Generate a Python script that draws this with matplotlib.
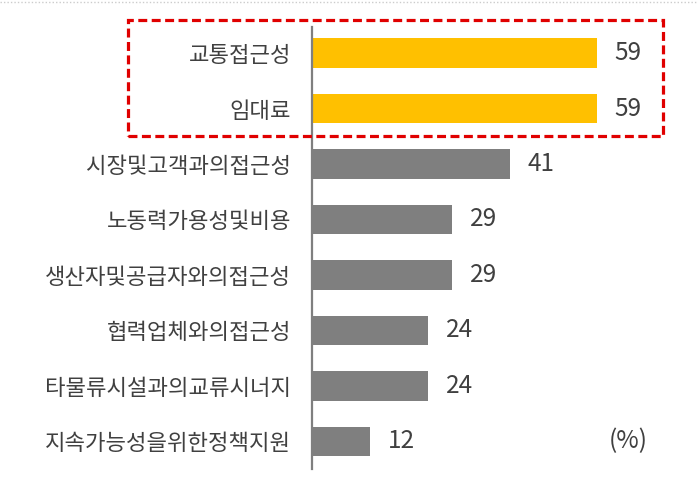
import matplotlib.pyplot as plt
from matplotlib.patches import Rectangle
from matplotlib.lines import Line2D

plt.rcParams['font.family'] = ['Noto Sans CJK KR', 'DejaVu Sans']

# data
factors = ['교통접근성', '임대료', '시장및고객과의접근성', '노동력가용성및비용',
           '생산자및공급자와의접근성', '협력업체와의접근성', '타물류시설과의교류시너지',
           '지속가능성을위한정책지원']
shares = [59, 59, 41, 29, 29, 24, 24, 12]
highlight = [True, True, False, False, False, False, False, False]

W, H = 697, 501
fig = plt.figure(figsize=(W / 100, H / 100), dpi=100)
ax = fig.add_axes([312 / W, (H - 469) / H, 386 / W, 442 / H])

colors = ['#ffc000' if h else '#7f7f7f' for h in highlight]
pos = list(range(len(factors)))
ax.barh(pos, shares, height=0.53, color=colors, left=0)
ax.set_xlim(0, 80)
ax.set_ylim(7.5, -0.47)

for p, v in zip(pos, shares):
    ax.annotate(str(v), (v, p), xytext=(13, 0), textcoords='offset points',
                va='center', ha='left', fontsize=17.5, color='#404040')

ax.set_yticks(pos)
ax.set_yticklabels(factors, fontsize=16, color='#404040')
ax.tick_params(axis='y', length=0, pad=15)
ax.set_xticks([])
for s in ['top', 'right', 'bottom']:
    ax.spines[s].set_visible(False)
ax.spines['left'].set_color('#7f7f7f')
ax.spines['left'].set_linewidth(1.6)

# red dashed highlight box
box = Rectangle((128 / W, 1 - 136 / H), (663 - 128) / W, (136 - 20) / H,
                transform=fig.transFigure, fill=False, edgecolor='#e00000',
                linewidth=2.3, linestyle=(0, (2.8, 1.4)))
fig.patches.append(box)

# faint dotted rule at the very top
fig.lines.append(Line2D([0, 1], [1 - 2 / H, 1 - 2 / H], transform=fig.transFigure,
                        color='#cccccc', linewidth=1, linestyle=(0, (1, 1.5))))

fig.text(628 / W, 1 - 441 / H, '(%)', ha='center', va='center',
         fontsize=17.5, color='#404040')

fig.savefig('out.png', dpi=100)
